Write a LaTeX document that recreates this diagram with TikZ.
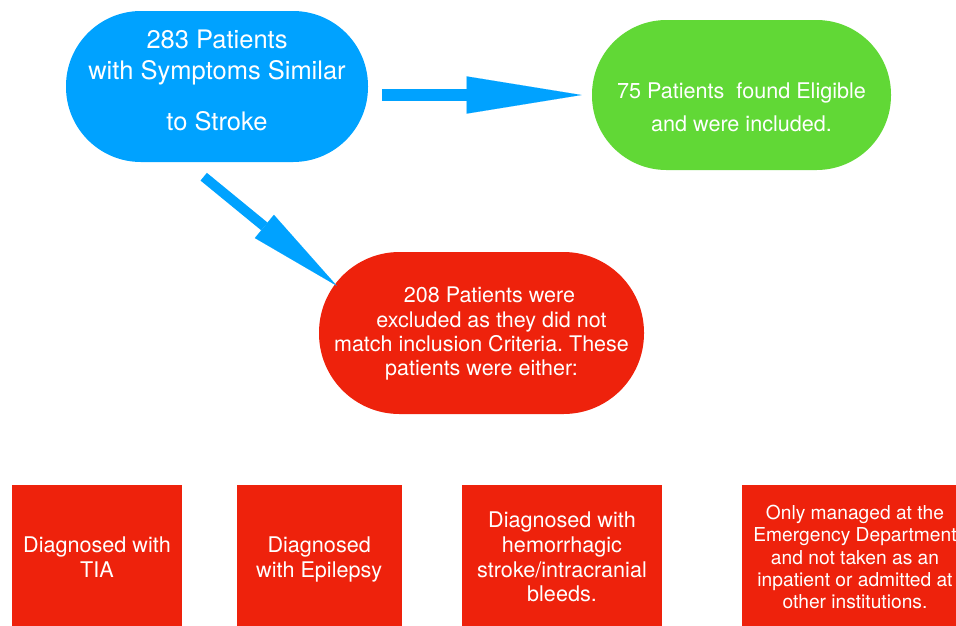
\documentclass[tikz,border=0pt]{standalone}
\usepackage{fontspec}
\setmainfont{TeX Gyre Heros}
\usetikzlibrary{arrows.meta}
\definecolor{kblue}{HTML}{00A2FF}
\definecolor{kgreen}{HTML}{61D836}
\definecolor{kred}{HTML}{EE220C}
\frenchspacing
\begin{document}
\begin{tikzpicture}[x=1pt,y=-1pt,
  stadium/.style={rectangle, inner sep=0pt, text=white, align=center},
  redbox/.style={rectangle, fill=kred, inner sep=0pt, text=white, align=center, minimum height=144pt},
  bigarrow/.style={kblue, line width=12.3pt, -{Triangle[length=115pt,width=37.3pt,line width=0.01pt]}},
  diagarrow/.style={kblue, line width=10pt, -{Triangle[length=93.5pt,width=30pt,line width=0.01pt]}}]
\useasboundingbox (0,0) rectangle (956,625);
\clip (0,0) rectangle (956,625);

\node[stadium, fill=kblue, minimum width=302pt, minimum height=151pt, rounded corners=75pt,
  font=\fontsize{25.5}{31}\selectfont] (blue) at (217,86.5)
  {283 Patients\\with Symptoms Similar\\[20pt]to Stroke\rule[-13.3pt]{0pt}{1pt}};

\node[stadium, fill=kgreen, minimum width=299pt, minimum height=150pt, rounded corners=74.5pt,
  font=\fontsize{21.6}{33}\selectfont] (green) at (741.5,95)
  {\rule{0pt}{41pt}75 Patients\ \ found Eligible\\and were included.};

\node[stadium, fill=kred, minimum width=325pt, minimum height=162pt, rounded corners=80.5pt,
  font=\fontsize{21.5}{24.3}\selectfont] (red) at (481.5,333)
  {\rule{0pt}{17.5pt}\hspace*{16pt}208 Patients were\\\hspace*{20pt}excluded as they did not\\match inclusion Criteria. These\\patients were either:};

\node[redbox, minimum width=170.6pt, font=\fontsize{21.6}{25}\selectfont] (b1) at (97,557)
  {Diagnosed with\\TIA};
\node[redbox, minimum width=165pt, font=\fontsize{21.6}{25}\selectfont] (b2) at (319.2,557)
  {\rule{0pt}{20pt}Diagnosed\\with Epilepsy};
\node[redbox, minimum width=200.6pt, font=\fontsize{21.6}{24.7}\selectfont] (b3) at (562,557)
  {Diagnosed with\\hemorrhagic\\stroke/intracranial\\bleeds.};
\node[redbox, minimum width=226pt, font=\fontsize{19.2}{22.2}\selectfont] (b4) at (855,557)
  {Only managed at the\\Emergency Department\\and not taken as an\\inpatient or admitted at\\other institutions.};

\draw[bigarrow, shorten <=13.7pt, shorten >=10.3pt] (blue.east |- green.west) -- (green.west);
\coordinate (d1) at ([shift={(-13.3,90.2)}]blue.center);
\coordinate (d2) at ([shift={(-144.8,-47.3)}]red.center);
\draw[diagarrow] (d1) -- (d2);
\end{tikzpicture}
\end{document}
